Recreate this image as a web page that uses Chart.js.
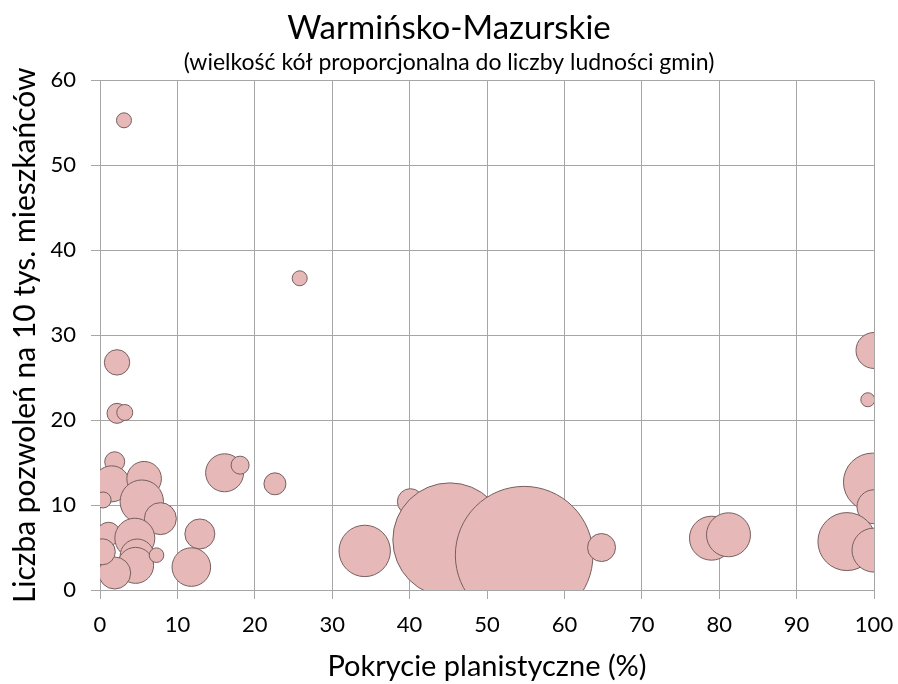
<!DOCTYPE html>
<html><head><meta charset="utf-8">
<script src="https://cdn.jsdelivr.net/npm/chart.js@4"></script>
<style>html,body{margin:0;padding:0;background:#fff}#wrap{width:898px;height:684px}</style>
</head><body><div id="wrap"><canvas id="c" width="898" height="684"></canvas></div>
<script>
const coverage = [3.1, 25.8, 2.2, 2.2, 3.2, 1.9, 1.5, 5.7, 5.4, 7.8, 0.4, 1.1, 4.5, 4.8, 4.6, 7.3, 1.9, 0.3, 12.9, 11.8, 16.1, 18.1, 22.6, 34.2, 40.1, 45.2, 54.8, 64.8, 79.0, 81.2, 100, 99.2, 99.8, 100, 96.5, 100];
const permits  = [55.3, 36.7, 26.8, 20.8, 20.9, 15.1, 12.5, 13.1, 10.4, 8.4, 10.6, 6.6, 6.1, 4.0, 2.9, 4.1, 2.0, 4.5, 6.6, 2.7, 13.8, 14.7, 12.5, 4.6, 10.4, 5.9, 4.1, 5.0, 6.1, 6.5, 28.2, 22.4, 12.7, 9.8, 5.7, 4.7];
const radius   = [7.5, 7.5, 12.7, 10, 8, 10, 18, 17.3, 21.7, 16, 8, 11.7, 20, 17, 18, 7.3, 16, 13, 15, 19.3, 19, 9, 11, 25.7, 13, 57, 68.8, 14, 22, 22, 18, 7, 29, 17, 29, 22];
const xTicks = [0,10,20,30,40,50,60,70,80,90,100];
const yTicks = [0,10,20,30,40,50,60];

const points = coverage.map((x,i)=>({x:x, y:permits[i], r:radius[i]}));
const font = "Lato, 'Open Sans', sans-serif";
const clipPlugin = {
  id: 'clipArea',
  beforeDatasetsDraw(chart) {
    const a = chart.chartArea; const ctx = chart.ctx;
    ctx.save(); ctx.beginPath(); ctx.rect(a.left, a.top, a.right - a.left, a.bottom - a.top); ctx.clip();
  },
  afterDatasetsDraw(chart) { chart.ctx.restore(); }
};
new Chart(document.getElementById('c'), {
  type: 'bubble',
  plugins: [clipPlugin],
  data: { datasets: [{
    data: points,
    backgroundColor: '#e6b8b7',
    borderColor: '#75605f',
    borderWidth: 1,
    hoverBorderWidth: 1,
    clip: false
  }]},
  options: {
    responsive: false,
    animation: false,
    events: [],
    layout: { autoPadding: false, padding: { left: 24, right: 24, top: 0, bottom: 0 } },
    plugins: {
      legend: { display: false },
      tooltip: { enabled: false },
      title: { display: true, text: 'Warmińsko-Mazurskie', color: '#000',
        font: { family: font, size: 33, weight: 'normal' }, padding: { top: 9, bottom: 0 } },
      subtitle: { display: true, text: '(wielkość kół proporcjonalna do liczby ludności gmin)', color: '#000',
        font: { family: font, size: 23, weight: 'normal' }, padding: { top: 0, bottom: 4.2 } }
    },
    scales: {
      x: { type: 'linear', min: 0, max: 100,
        afterBuildTicks: s => { s.ticks = xTicks.map(v=>({value:v})); },
        afterFit: s => { s.height = 94; s.paddingRight = 24; s.paddingLeft = 0; },
        ticks: { color: '#000', font: { family: font, size: 22 }, padding: 13, maxRotation: 0 },
        grid: { color: '#a6a6a6', lineWidth: 1, tickLength: 9 },
        border: { color: '#a6a6a6' },
        title: { display: true, text: 'Pokrycie planistyczne (%)', color: '#000',
          font: { family: font, size: 29 }, padding: { top: 0, bottom: 0 } } },
      y: { type: 'linear', min: 0, max: 60,
        afterBuildTicks: s => { s.ticks = yTicks.map(v=>({value:v})); },
        afterFit: s => { s.width = 76; },
        ticks: { color: '#000', font: { family: font, size: 22 }, padding: 15 },
        grid: { color: '#a6a6a6', lineWidth: 1, tickLength: 9 },
        border: { color: '#a6a6a6' },
        title: { display: true, text: 'Liczba pozwoleń na 10 tys. mieszkańców', color: '#000',
          font: { family: font, size: 30 }, padding: { top: -17, bottom: 0 } } }
    }
  }
});
</script></body></html>
